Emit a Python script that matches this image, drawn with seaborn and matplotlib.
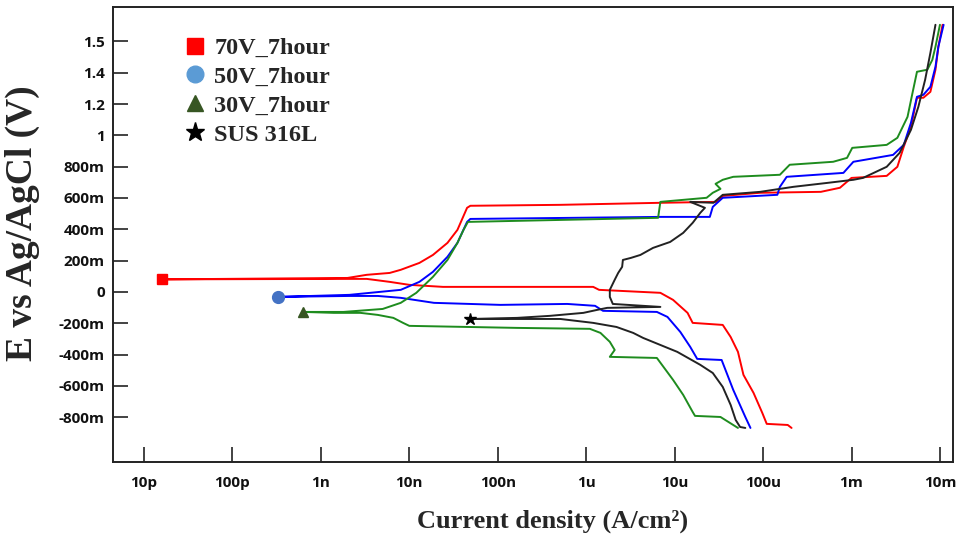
import numpy as np
import pandas as pd
import matplotlib
matplotlib.use("Agg")
import matplotlib.pyplot as plt
from matplotlib.lines import Line2D
import seaborn as sns

# Dados: corrente (A/cm2) e potencial (V), ramo catódico -> Ecorr -> ramo anódico
i_70v = [2.1e-4, 1.9e-4, 1.1e-4, 9.8e-5, 7.8e-5, 6.0e-5, 5.2e-5, 4.3e-5, 3.5e-5, 1.6e-5, 1.4e-5,
         9.6e-6, 6.9e-6, 1.4e-6, 1.2e-6, 1.07e-7, 2.4e-8, 1.0e-8, 6.0e-9, 3.3e-9, 2.0e-9,
         1.6e-11,
         2.0e-9, 3.3e-9, 6.0e-9, 8.0e-9, 1.3e-8, 1.85e-8, 2.7e-8, 3.5e-8, 4.5e-8, 4.9e-8,
         5.1e-7, 6.9e-6, 3.0e-5, 3.5e-5, 9.3e-5, 4.5e-4, 7.4e-4, 1.0e-3, 2.5e-3, 3.3e-3,
         3.9e-3, 4.7e-3, 5.5e-3, 6.5e-3, 7.8e-3, 8.9e-3, 9.6e-3, 1.07e-2]
e_70v = [-0.869, -0.85, -0.843, -0.773, -0.645, -0.53, -0.383, -0.288, -0.211, -0.198, -0.134,
         -0.051, -0.006, 0.013, 0.032, 0.032, 0.032, 0.045, 0.064, 0.083, 0.083,
         0.08,
         0.089, 0.109, 0.121, 0.141, 0.185, 0.236, 0.313, 0.396, 0.537, 0.55,
         0.556, 0.569, 0.575, 0.613, 0.633, 0.639, 0.665, 0.728, 0.741, 0.799,
         0.927, 1.054, 1.24, 1.24, 1.278, 1.419, 1.566, 1.706]

i_50v = [7.2e-5, 6.3e-5, 4.6e-5, 3.4e-5, 1.8e-5, 1.5e-5, 1.16e-5, 8.3e-6, 6.3e-6, 1.55e-6, 1.26e-6,
         6.1e-7, 1.07e-7, 1.9e-8, 8.0e-9, 4.4e-9, 2.1e-9,
         3.3e-10,
         2.1e-9, 8.0e-9, 1.3e-8, 1.85e-8, 2.7e-8, 3.5e-8, 4.5e-8, 4.9e-8, 6.9e-6, 2.5e-5,
         2.7e-5, 3.5e-5, 1.45e-4, 1.55e-4, 1.85e-4, 8.1e-4, 1.05e-3, 2.95e-3, 3.9e-3, 4.7e-3,
         5.5e-3, 6.5e-3, 7.8e-3, 8.9e-3, 9.6e-3, 1.1e-2]
e_50v = [-0.869, -0.799, -0.626, -0.435, -0.428, -0.351, -0.256, -0.16, -0.128, -0.121, -0.089,
         -0.077, -0.083, -0.07, -0.038, -0.026, -0.026,
         -0.032,
         -0.019, 0.013, 0.064, 0.128, 0.224, 0.313, 0.447, 0.466, 0.479, 0.479,
         0.543, 0.601, 0.62, 0.671, 0.735, 0.76, 0.831, 0.875, 0.939, 1.08,
         1.246, 1.259, 1.31, 1.438, 1.566, 1.706]

i_30v = [5.2e-5, 3.3e-5, 1.7e-5, 1.6e-5, 1.25e-5, 9.6e-6, 6.3e-6, 1.85e-6, 2.1e-6, 1.85e-6, 1.45e-6,
         1.1e-6, 1.66e-7, 1.0e-8, 8.5e-9, 6.6e-9, 4.4e-9, 2.8e-9, 1.4e-9,
         6.3e-10,
         1.8e-9, 5.0e-9, 8.0e-9, 1.2e-8, 1.85e-8, 2.7e-8, 3.5e-8, 4.1e-8, 4.6e-8, 6.5e-6,
         6.9e-6, 2.3e-5, 2.7e-5, 3.3e-5, 2.9e-5, 3.5e-5, 4.6e-5, 1.55e-4, 2.0e-4, 6.2e-4,
         8.9e-4, 1.02e-3, 2.5e-3, 3.3e-3, 4.3e-3, 4.9e-3, 5.5e-3, 7.2e-3, 8.2e-3, 8.9e-3, 1.0e-2]
e_30v = [-0.869, -0.799, -0.792, -0.767, -0.658, -0.562, -0.422, -0.415, -0.371, -0.319, -0.262,
         -0.236, -0.23, -0.217, -0.198, -0.166, -0.147, -0.134, -0.134,
         -0.128,
         -0.128, -0.109, -0.07, -0.006, 0.096, 0.204, 0.313, 0.396, 0.447, 0.473,
         0.575, 0.601, 0.633, 0.658, 0.69, 0.716, 0.735, 0.748, 0.812, 0.831,
         0.856, 0.92, 0.939, 0.984, 1.118, 1.272, 1.406, 1.419, 1.482, 1.566, 1.706]

i_sus = [6.3e-5, 5.5e-5, 4.9e-5, 4.3e-5, 3.5e-5, 2.7e-5, 1.95e-5, 1.07e-5, 4.4e-6, 3.4e-6, 2.2e-6,
         1.2e-6, 5.1e-7, 2.5e-7, 5.9e-8,
         4.9e-8,
         1.66e-7, 3.9e-7, 9.3e-7, 1.33e-6, 1.73e-6, 6.9e-6, 2.0e-6, 1.85e-6, 1.85e-6, 2.1e-6,
         2.3e-6, 2.55e-6, 2.6e-6, 3.2e-6, 4.1e-6, 5.7e-6, 8.9e-6, 1.25e-5, 1.6e-5, 1.95e-5,
         2.2e-5, 1.5e-5, 2.75e-5, 3.5e-5, 9.3e-5, 2.2e-4, 5.3e-4, 1.05e-3, 1.35e-3, 2.5e-3,
         3.5e-3, 4.7e-3, 5.7e-3, 6.8e-3, 7.8e-3, 8.9e-3]
e_sus = [-0.869, -0.863, -0.818, -0.722, -0.607, -0.518, -0.466, -0.383, -0.294, -0.262, -0.224,
         -0.198, -0.173, -0.173, -0.173,
         -0.173,
         -0.166, -0.153, -0.134, -0.115, -0.102, -0.096, -0.077, -0.032, 0.013, 0.077,
         0.121, 0.16, 0.204, 0.217, 0.236, 0.281, 0.319, 0.377, 0.441, 0.505,
         0.537, 0.575, 0.569, 0.62, 0.639, 0.671, 0.696, 0.716, 0.728, 0.799,
         0.888, 1.035, 1.182, 1.355, 1.527, 1.706]

amostras = ["70V_7hour", "50V_7hour", "30V_7hour", "SUS 316L"]
ecorr_i = [1.6e-11, 3.3e-10, 6.3e-10, 4.9e-8]
ecorr_e = [0.08, -0.032, -0.128, -0.173]

yticks = [-0.8, -0.6, -0.4, -0.2, 0, 0.2, 0.4, 0.6, 0.8, 1.0, 1.2, 1.4, 1.6]
ytick_labels = ["-800m", "-600m", "-400m", "-200m", "0", "200m", "400m", "600m", "800m",
                "1", "1.2", "1.4", "1.5"]
xticks = [1e-11, 1e-10, 1e-9, 1e-8, 1e-7, 1e-6, 1e-5, 1e-4, 1e-3, 1e-2]
xtick_labels = ["10p", "100p", "1n", "10n", "100n", "1u", "10u", "100u", "1m", "10m"]

cores_linha = ["#ff0000", "#0000ff", "#1e8c1e", "#222222"]
cores_marker = ["#ff0000", "#4472c4", "#375623", "#000000"]
cores_legenda = ["#ff0000", "#5b9bd5", "#375623", "#000000"]
markers = ["s", "o", "^", "*"]
tam_marker = [7.5, 8.5, 7, 9]

# montar o dataframe
partes = []
for nome, i_, e_ in zip(amostras, [i_70v, i_50v, i_30v, i_sus], [e_70v, e_50v, e_30v, e_sus]):
    partes.append(pd.DataFrame({"amostra": nome, "corrente": i_, "potencial": e_}))
df = pd.concat(partes, ignore_index=True)

sns.set_style("white")
fig = plt.figure(figsize=(9.58, 5.34), dpi=100)
ax = fig.add_axes([0.118, 0.135, 0.877, 0.852])

sns.lineplot(data=df, x="corrente", y="potencial", hue="amostra", palette=cores_linha,
             estimator=None, sort=False, linewidth=1.4, legend=False, ax=ax)

for k in range(4):
    ax.plot(ecorr_i[k], ecorr_e[k], marker=markers[k], color=cores_marker[k],
            markersize=tam_marker[k], linestyle="none", zorder=5)

ax.set_xscale("log")
ax.set_xlim(10 ** -11.35, 10 ** -1.85)
ax.set_ylim(-1.086, 1.82)
ax.set_xticks(xticks)
ax.set_xticklabels(xtick_labels)
ax.set_yticks(yticks)
ax.set_yticklabels(ytick_labels)
ax.xaxis.set_minor_locator(matplotlib.ticker.NullLocator())

for lab in ax.get_xticklabels() + ax.get_yticklabels():
    lab.set_fontfamily("Open Sans")
    lab.set_fontweight("bold")
    lab.set_fontsize(11)
    lab.set_color("#111111")

ax.tick_params(axis="both", direction="in", length=11, width=1.2, color="#222222",
               bottom=True, left=True)
ax.tick_params(axis="x", pad=10)
ax.tick_params(axis="y", pad=6)
for s in ax.spines.values():
    s.set_color("#222222")
    s.set_linewidth(1.4)

ax.set_xlabel("Current density (A/cm²)", fontfamily="Liberation Serif", fontweight="bold",
              fontsize=19, labelpad=9)
ax.xaxis.set_label_coords(0.523, -0.105, transform=ax.transAxes)
ax.xaxis.label.set_verticalalignment("top")
ax.set_ylabel("E vs Ag/AgCl (V)", fontfamily="Liberation Serif", fontweight="bold",
              fontsize=27, labelpad=6)
ax.yaxis.set_label_coords(-0.087, 0.525, transform=ax.transAxes)

# legenda só com os marcadores
handles = [Line2D([], [], marker=markers[k], color=cores_legenda[k], linestyle="none",
                  markersize=12 if k != 3 else 14) for k in range(4)]
ax.legend(handles, amostras, loc="upper left", bbox_to_anchor=(0.064, 0.955), frameon=False,
          prop={"family": "Liberation Serif", "weight": "bold", "size": 17.5},
          handletextpad=0.05, labelspacing=0.28, borderaxespad=0, handlelength=1.5)

fig.savefig("out.png", dpi=100)
